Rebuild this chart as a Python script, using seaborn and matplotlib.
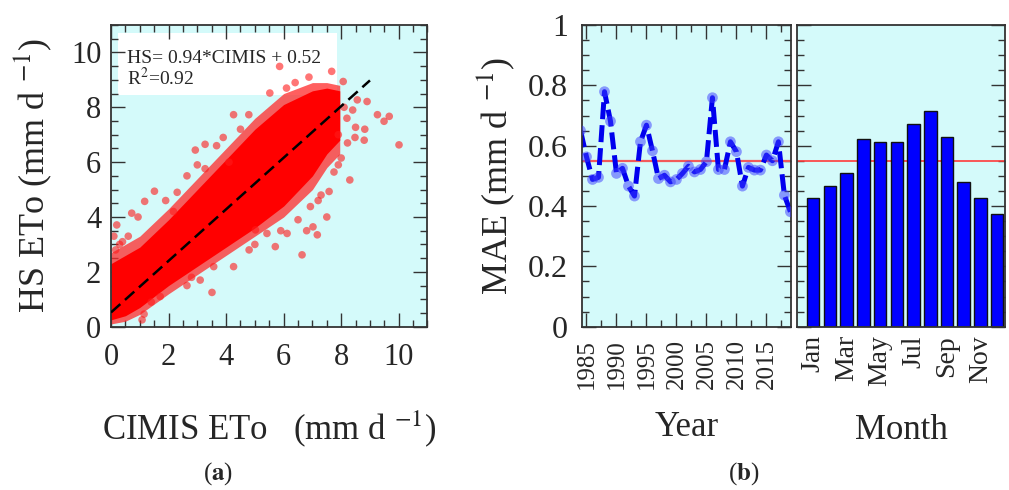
import matplotlib
matplotlib.use("Agg")
import matplotlib.pyplot as plt
from matplotlib.patches import Rectangle
from matplotlib.ticker import MultipleLocator, FixedLocator
import seaborn as sns
import pandas as pd
import numpy as np

# ---- data ----
# dense core / halo of the HS vs CIMIS cloud (envelopes)
band_x = [0.0, 0.5, 1.0, 2.0, 3.0, 4.0, 5.0, 6.0, 7.0, 7.5, 7.95]
halo_hi = [2.7, 3.0, 3.3, 4.3, 5.4, 6.5, 7.6, 8.5, 8.9, 8.9, 8.8]
halo_lo = [0.1, 0.2, 0.45, 1.2, 1.9, 2.6, 3.3, 4.0, 5.0, 5.8, 6.3]
core_hi = [2.3, 2.6, 2.9, 3.9, 5.0, 6.1, 7.2, 8.1, 8.6, 8.7, 8.6]
core_lo = [0.25, 0.4, 0.7, 1.5, 2.2, 2.9, 3.6, 4.4, 5.5, 6.3, 6.8]

# scattered points outside the core
out_x = [5.86, 7.67, 8.07, 6.88, 8.56, 8.9, 9.26, 9.49, 9.67, 10.01, 8.82, 8.5,
         8.48, 8.8, 8.22, 8.3, 8.0, 7.75, 7.58, 7.5, 7.17, 7.02, 6.8, 6.64, 6.93,
         6.12, 5.71, 5.42, 5.02, 4.26, 3.57, 3.1, 3.51, 2.64, 1.71, 1.15, 1.08,
         0.2, 0.16, 0.72, 0.94, 1.17, 1.51, 2.17, 2.64, 2.93, 3.27, 3.67, 3.27,
         4.26, 4.79, 5.52, 6.1, 6.4, 4.5, 3.9, 4.1, 7.3, 7.9, 0.4, 0.6, 1.9, 2.3,
         8.1, 8.2, 7.9, 8.4, 6.5, 5.0, 2.8, 1.4, 0.3, 0.1, 5.9, 7.2, 3.0, 4.8]
out_y = [9.49, 9.31, 8.94, 9.1, 8.27, 8.21, 7.73, 7.49, 7.67, 6.63, 7.2, 7.27,
         6.9, 6.8, 6.7, 5.35, 6.15, 5.64, 4.93, 4.0, 3.35, 3.64, 3.5, 2.62, 4.38,
         3.4, 2.92, 3.4, 3.53, 2.19, 2.19, 1.7, 1.25, 1.5, 1.1, 0.46, 0.25,
         3.71, 2.8, 4.14, 4.0, 4.57, 4.94, 4.2, 5.5, 6.44, 6.65, 6.6, 5.76,
         7.73, 7.73, 8.52, 8.7, 8.9, 7.2, 6.9, 6.0, 4.8, 5.9, 3.1, 3.3, 4.6, 4.9,
         8.0, 7.6, 7.0, 7.9, 3.9, 3.0, 1.8, 0.9, 3.0, 3.3, 3.5, 4.6, 5.9, 2.8]

fit_slope = 0.94
fit_icept = 0.52
fit_x = [0, 9]

years = list(range(1984, 2020))
year_mae = [0.65, 0.563, 0.488, 0.495, 0.779, 0.681, 0.508, 0.525, 0.466, 0.433,
            0.613, 0.668, 0.583, 0.491, 0.502, 0.48, 0.488, 0.508, 0.532, 0.513,
            0.521, 0.547, 0.759, 0.521, 0.521, 0.613, 0.58, 0.466, 0.528, 0.519,
            0.519, 0.569, 0.55, 0.613, 0.436, 0.381]
year_ticks = [1985, 1990, 1995, 2000, 2005, 2010, 2015]

months = list(range(1, 13))
month_mae = [0.425, 0.465, 0.51, 0.623, 0.612, 0.612, 0.671, 0.714, 0.630, 0.48, 0.425, 0.373]
month_labels = ["Jan", "Mar", "May", "Jul", "Sep", "Nov"]
mae_mean = 0.548

# ---- style ----
sns.set_style("ticks")
plt.rcParams["font.family"] = ["Liberation Serif", "DejaVu Serif"]
plt.rcParams["mathtext.fontset"] = "stix"

BG = "#d4fafa"
SPINE = "#333333"

fig = plt.figure(figsize=(10.09, 4.9), dpi=100)
W, H = 1009, 490


def axes_px(l, t, r, b):
    return fig.add_axes([l / W, 1 - b / H, (r - l) / W, (b - t) / H])


def style_ax(ax):
    ax.set_facecolor(BG)
    for s in ax.spines.values():
        s.set_color(SPINE)
        s.set_linewidth(1.3)
        s.set_visible(True)
    ax.tick_params(which="both", direction="in", top=True, right=True,
                   color=SPINE, width=1.0)
    ax.tick_params(which="major", length=10)
    ax.tick_params(which="minor", length=5)


# ---- panel (a) ----
ax1 = axes_px(111, 25, 427.5, 326.7)
style_ax(ax1)
ax1.add_patch(Rectangle((0.022, 0.768), 0.692, 0.205, transform=ax1.transAxes,
                        facecolor="white", edgecolor="none", zorder=0.5))
ax1.fill_between(band_x, halo_lo, halo_hi, color="#ff2a2a", alpha=0.75, lw=0, zorder=1)
ax1.fill_between(band_x, core_lo, core_hi, color="#ff0000", alpha=1.0, lw=0, zorder=1.2)
sns.scatterplot(x=out_x, y=out_y, ax=ax1, color="#ff1a1a", alpha=0.6, s=30,
                edgecolor="none", zorder=2)
ax1.plot(fit_x, [fit_icept + fit_slope * v for v in fit_x], color="black",
         lw=1.8, dashes=(5, 2.5), zorder=3)
ax1.set_xlim(0, 11)
ax1.set_ylim(0, 11)
ax1.xaxis.set_major_locator(MultipleLocator(2))
ax1.xaxis.set_minor_locator(MultipleLocator(0.5))
ax1.yaxis.set_major_locator(MultipleLocator(2))
ax1.yaxis.set_minor_locator(MultipleLocator(0.5))
ax1.tick_params(axis="both", labelsize=22)
ax1.tick_params(axis="x", pad=12)
ax1.tick_params(axis="y", pad=7)
ax1.text(0.05, 0.875, "HS= 0.94*CIMIS + 0.52", transform=ax1.transAxes,
         fontsize=14, va="baseline", ha="left", zorder=4)
ax1.text(0.05, 0.801, "R$^2$=0.92", transform=ax1.transAxes,
         fontsize=14, va="baseline", ha="left", zorder=4)
ax1.set_xlabel("CIMIS ETo   (mm d $^{-1}$)", fontsize=25, labelpad=26)
ax1.set_ylabel("HS ETo (mm d $^{-1}$)", fontsize=26, labelpad=12)
fig.text(218 / W, 1 - 474 / H, "($\\mathbf{a}$)", fontsize=18, ha="center", va="center")

# ---- panel (b): yearly ----
ax2 = axes_px(581.7, 25, 790.7, 326.7)
style_ax(ax2)
ax2.axhline(mae_mean, color="#f25a5a", lw=1.6, zorder=1)
sns.lineplot(x=years, y=year_mae, ax=ax2, color="#0000ee", lw=3.6, zorder=2)
ax2.lines[-1].set_dashes((3.4, 1.2))
sns.scatterplot(x=years, y=year_mae, ax=ax2, color="#3a3aff", alpha=0.5, s=60,
                edgecolor="none", zorder=3)
ax2.set_xlim(1984.2, 2019.05)
ax2.set_ylim(0, 1)
ax2.xaxis.set_major_locator(FixedLocator(year_ticks))
ax2.xaxis.set_minor_locator(MultipleLocator(2.5))
ax2.yaxis.set_minor_locator(MultipleLocator(0.05))
ax2.set_yticks([0, 0.2, 0.4, 0.6, 0.8, 1.0])
ax2.set_yticklabels(["0", "0.2", "0.4", "0.6", "0.8", "1"])
ax2.set_xticks(year_ticks)
ax2.set_xticklabels([str(y) for y in year_ticks], rotation=90)
ax2.tick_params(axis="x", labelsize=18, pad=9)
ax2.tick_params(axis="y", labelsize=23, pad=10)
ax2.set_xlabel("Year", fontsize=25, labelpad=16)
ax2.set_ylabel("MAE (mm d $^{-1}$)", fontsize=26, labelpad=8)

# ---- panel (b): monthly ----
ax3 = axes_px(797.3, 25, 1005, 326.7)
style_ax(ax3)
ax3.axhline(mae_mean, color="#ff3b3b", lw=1.2, zorder=1)
sns.barplot(x=months, y=month_mae, ax=ax3, native_scale=True, color="#0000ff",
            saturation=1, edgecolor="#111111", linewidth=1.0, width=0.75, zorder=2)
ax3.set_xlim(0.05, 12.47)
ax3.set_ylim(0, 1)
ax3.yaxis.set_major_locator(MultipleLocator(0.2))
ax3.yaxis.set_minor_locator(MultipleLocator(0.05))
ax3.set_xticks([1, 3, 5, 7, 9, 11])
ax3.set_xticklabels(month_labels, rotation=90)
ax3.xaxis.set_minor_locator(FixedLocator([]))
ax3.tick_params(axis="x", which="both", length=0, labelsize=20, pad=6)
ax3.tick_params(axis="y", labelleft=False)
ax3.set_xlabel("Month", fontsize=25, labelpad=20)
ax3.set_ylabel("")
fig.text(744 / W, 1 - 474 / H, "($\\mathbf{b}$)", fontsize=18, ha="center", va="center")

fig.savefig("out.png", dpi=100, facecolor="white")
